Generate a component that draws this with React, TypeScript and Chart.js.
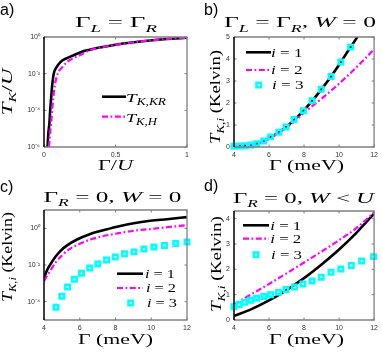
import React, { useEffect, useRef } from "react";
import { Chart, registerables } from "chart.js";
Chart.register(...registerables);

const W = 382;
const H = 354;

// ---------- Panel a) Γ_L = Γ_R ----------
const aGammaKR = [0.025, 0.03, 0.038, 0.043, 0.05, 0.057, 0.068, 0.087, 0.115, 0.15, 0.2, 0.28, 0.37, 0.5, 0.63, 0.74, 0.86, 1.0];
const aTKR = [1e-6, 5e-6, 2.1e-5, 9.3e-5, 4.6e-4, 2.2e-3, 1e-2, 2.2e-2, 4.3e-2, 6.5e-2, 0.095, 0.17, 0.25, 0.38, 0.52, 0.65, 0.78, 0.92];
const aGammaH = [0.035, 0.042, 0.05, 0.057, 0.065, 0.075, 0.096, 0.127, 0.16, 0.197, 0.25, 0.32, 0.4, 0.5, 0.63, 0.74, 0.86, 1.0];
const aTH = [1e-6, 5e-6, 2.1e-5, 1e-4, 5e-4, 2.2e-3, 1e-2, 2.2e-2, 4.3e-2, 6.5e-2, 0.1, 0.19, 0.27, 0.37, 0.52, 0.65, 0.78, 0.92];
const aXTicks = [0, 0.5, 1];
const aYTicks = [1e-6, 1e-4, 1e-2, 1];

// ---------- Panel b) Γ_L = Γ_R, W = 0 ----------
const bGamma1 = [4, 4.5, 5, 5.5, 6, 6.5, 7, 7.5, 8, 8.5, 9, 9.5, 10, 10.5, 11, 11.5];
const bT1 = [0.02, 0.05, 0.1, 0.2, 0.4, 0.63, 0.93, 1.28, 1.68, 2.13, 2.63, 3.16, 3.74, 4.35, 4.95, 5.6];
const bGamma2 = [4, 5, 6, 7, 7.5, 8, 8.5, 9, 9.5, 10, 10.5, 11, 11.5, 12];
const bT2 = [0.02, 0.1, 0.38, 0.88, 1.2, 1.56, 1.88, 2.2, 2.53, 2.88, 3.25, 3.63, 4.03, 4.45];
const bGamma3 = [4.0, 4.32, 4.63, 4.97, 5.29, 5.7, 6.09, 6.56, 6.97, 7.43, 7.96, 8.46, 8.98, 9.54, 10.1, 10.66];
const bT3 = [0.03, 0.05, 0.06, 0.09, 0.15, 0.27, 0.46, 0.67, 0.91, 1.25, 1.65, 2.1, 2.62, 3.2, 3.86, 4.54];
const bYTicks = [0, 1, 2, 3, 4, 5];

// ---------- Panel c) Γ_R = 0, W = 0 ----------
const cGamma1 = [4, 4.17, 4.35, 4.63, 4.91, 5.29, 5.85, 6.59, 7.15, 8.09, 9.02, 9.95, 10.88, 12];
const cT1 = [2.0e-3, 5.2e-3, 1.05e-2, 2.7e-2, 5.75e-2, 0.117, 0.245, 0.49, 0.71, 1.23, 1.9, 2.57, 3.16, 4.07];
const cGamma2 = [4, 4.35, 4.63, 5.0, 5.47, 6.03, 6.59, 7.15, 8.09, 9.02, 9.95, 10.88, 12];
const cT2 = [1.35e-3, 4.9e-3, 1.29e-2, 3.3e-2, 7.8e-2, 0.148, 0.245, 0.347, 0.525, 0.74, 0.91, 1.15, 1.48];
const cGamma3 = [4.67, 5.0, 5.32, 5.7, 6.1, 6.56, 7.01, 7.5, 7.99, 8.5, 9.03, 9.59, 10.15, 10.74, 11.37, 12.0];
const cT3 = [4.9e-5, 2.0e-4, 6.3e-4, 1.66e-3, 3.5e-3, 6.8e-3, 1.15e-2, 1.9e-2, 2.75e-2, 4.1e-2, 5.2e-2, 7.4e-2, 9.5e-2, 0.117, 0.148, 0.182];
const cYTicks = [1e-4, 1e-2, 1];

// ---------- Panel d) Γ_R = 0, W < U ----------
const dGamma1 = [4, 5, 6, 7, 8, 9, 10, 11, 12];
const dT1 = [0.16, 0.43, 0.77, 1.18, 1.65, 2.19, 2.78, 3.45, 4.2];
const dGamma2 = [4, 5, 6, 7, 8, 9, 10, 11, 12];
const dT2 = [0.61, 1.02, 1.42, 1.84, 2.27, 2.7, 3.15, 3.63, 4.25];
const dGamma3 = [4.0, 4.3, 4.6, 4.95, 5.29, 5.7, 6.09, 6.54, 6.97, 7.45, 7.94, 8.46, 8.98, 9.54, 10.1, 10.7, 11.29, 11.97];
const dT3 = [0.52, 0.61, 0.7, 0.78, 0.86, 0.93, 1.0, 1.09, 1.2, 1.3, 1.42, 1.54, 1.69, 1.88, 2.01, 2.15, 2.33, 2.5];
const dYTicks = [0, 1, 2, 3, 4];

const gammaTicks = [4, 6, 8, 10, 12];

// ---------- helpers ----------
const SUP: Record<string, string> = { "-": "⁻", "0": "⁰", "1": "¹", "2": "²", "3": "³", "4": "⁴", "5": "⁵", "6": "⁶", "7": "⁷", "8": "⁸", "9": "⁹" };
const logLabel = (v: number) =>
  "10" + String(Math.round(Math.log10(v))).split("").map((c) => SUP[c] || c).join("");
const plainLabel = (v: number) => String(v);

const xy = (xs: number[], ys: number[]) => xs.map((x, i) => ({ x, y: ys[i] }));

const BLACK = "#000000";
const MAGENTA = "#ff00ff";
const CYAN = "#00ffff";

function solid(label: string, xs: number[], ys: number[]) {
  return { label, data: xy(xs, ys), showLine: true, borderColor: BLACK, backgroundColor: BLACK, borderWidth: 2.6, pointRadius: 0, cubicInterpolationMode: "monotone", order: 2 };
}
function dashdot(label: string, xs: number[], ys: number[]) {
  return { label, data: xy(xs, ys), showLine: true, borderColor: MAGENTA, backgroundColor: MAGENTA, borderWidth: 2.2, borderDash: [6, 2.5, 1.8, 2.5], pointRadius: 0, cubicInterpolationMode: "monotone", order: 1 };
}
function squares(label: string, xs: number[], ys: number[]) {
  return {
    label, data: xy(xs, ys), showLine: false, pointStyle: "rect", pointRadius: 3.1, pointBorderWidth: 2.6,
    pointBorderColor: CYAN, pointBackgroundColor: "rgba(0,0,0,0)", borderColor: CYAN, backgroundColor: "rgba(0,0,0,0)",
    clip: false, order: 0,
  };
}

type LegendItem = { ds: number; kind: "line" | "marker"; x1: number; x2?: number; y: number };

function makeDecor(legend: LegendItem[]) {
  return {
    id: "decor",
    afterDatasetsDraw(chart: any) {
      const { ctx, chartArea: a } = chart;
      const xs = chart.scales.x;
      const ys = chart.scales.y;
      ctx.save();
      ctx.setLineDash([]);
      ctx.lineWidth = 1;
      ctx.strokeStyle = "#7f7f7f";
      const TL = 2.5;
      ctx.beginPath();
      for (const t of xs.ticks) {
        const px = xs.getPixelForValue(t.value);
        ctx.moveTo(px, a.bottom); ctx.lineTo(px, a.bottom - TL);
        ctx.moveTo(px, a.top); ctx.lineTo(px, a.top + TL);
      }
      for (const t of ys.ticks) {
        const py = ys.getPixelForValue(t.value);
        ctx.moveTo(a.left, py); ctx.lineTo(a.left + TL, py);
        ctx.moveTo(a.right, py); ctx.lineTo(a.right - TL, py);
      }
      ctx.stroke();
      ctx.lineWidth = 1.3;
      ctx.strokeStyle = "#808080";
      ctx.beginPath();
      ctx.moveTo(a.left, a.bottom); ctx.lineTo(a.right, a.bottom); ctx.lineTo(a.right, a.top); ctx.lineTo(a.left, a.top);
      ctx.stroke();
      ctx.strokeStyle = "#000";
      ctx.lineWidth = 1.5;
      ctx.beginPath(); ctx.moveTo(a.left, a.top); ctx.lineTo(a.left, a.bottom); ctx.stroke();
      for (const it of legend) {
        const ds: any = chart.data.datasets[it.ds];
        if (it.kind === "line") {
          ctx.strokeStyle = ds.borderColor;
          ctx.lineWidth = ds.borderWidth;
          ctx.setLineDash(ds.borderDash || []);
          ctx.beginPath(); ctx.moveTo(it.x1, it.y); ctx.lineTo(it.x2, it.y); ctx.stroke();
          ctx.setLineDash([]);
        } else {
          const s = 2 * ds.pointRadius * Math.SQRT1_2;
          ctx.strokeStyle = ds.pointBorderColor;
          ctx.lineWidth = ds.pointBorderWidth;
          ctx.strokeRect(it.x1 - s / 2, it.y - s / 2, s, s);
        }
      }
      ctx.restore();
    },
  };
}

type Spec = {
  area: { left: number; right: number; top: number; bottom: number };
  xMin: number; xMax: number; xTicks: number[]; xLabel: (v: number) => string;
  yLog: boolean; yMin: number; yMax: number; yTicks: number[]; yLabel: (v: number) => string;
  datasets: any[];
  legend: LegendItem[];
};

const tickFont = { family: '"Liberation Sans", Arial, sans-serif', size: 7 };
const tickColor = "#333333";

function makeConfig(p: Spec): any {
  const YW = 40;
  const XH = 16;
  return {
    type: "scatter",
    data: { datasets: p.datasets },
    plugins: [makeDecor(p.legend)],
    options: {
      animation: false,
      responsive: false,
      devicePixelRatio: 1,
      events: [],
      layout: {
        padding: { left: p.area.left - YW, top: p.area.top, right: W - p.area.right, bottom: H - p.area.bottom - XH },
      },
      plugins: { legend: { display: false }, tooltip: { enabled: false }, title: { display: false } },
      scales: {
        x: {
          type: "linear", position: "bottom", min: p.xMin, max: p.xMax,
          afterBuildTicks: (s: any) => { s.ticks = p.xTicks.map((v) => ({ value: v })); },
          afterFit: (s: any) => { s.height = XH; },
          ticks: { autoSkip: false, maxRotation: 0, padding: 4, font: tickFont, color: tickColor, callback: (v: any) => p.xLabel(Number(v)) },
          grid: { display: false, drawTicks: false },
          border: { display: false },
        },
        y: {
          type: p.yLog ? "logarithmic" : "linear", position: "left", min: p.yMin, max: p.yMax,
          afterBuildTicks: (s: any) => { s.ticks = p.yTicks.map((v) => ({ value: v })); },
          afterFit: (s: any) => { s.width = YW; },
          ticks: { autoSkip: false, padding: 4, font: tickFont, color: tickColor, callback: (v: any) => p.yLabel(Number(v)) },
          grid: { display: false, drawTicks: false },
          border: { display: false },
        },
      },
    },
  };
}

const specs: Spec[] = [
  {
    area: { left: 44, right: 187, top: 37, bottom: 147 },
    xMin: 0, xMax: 1, xTicks: aXTicks, xLabel: plainLabel,
    yLog: true, yMin: 1e-6, yMax: 1, yTicks: aYTicks, yLabel: logLabel,
    datasets: [solid("T_K,KR", aGammaKR, aTKR), dashdot("T_K,H", aGammaH, aTH)],
    legend: [
      { ds: 0, kind: "line", x1: 102, x2: 126, y: 96.7 },
      { ds: 1, kind: "line", x1: 102, x2: 126, y: 116.7 },
    ],
  },
  {
    area: { left: 234, right: 377, top: 37, bottom: 147 },
    xMin: 4, xMax: 12, xTicks: gammaTicks, xLabel: plainLabel,
    yLog: false, yMin: 0, yMax: 5, yTicks: bYTicks, yLabel: plainLabel,
    datasets: [solid("i = 1", bGamma1, bT1), dashdot("i = 2", bGamma2, bT2), squares("i = 3", bGamma3, bT3)],
    legend: [
      { ds: 0, kind: "line", x1: 246, x2: 271, y: 52.3 },
      { ds: 1, kind: "line", x1: 246, x2: 271, y: 70 },
      { ds: 2, kind: "marker", x1: 258.7, y: 85 },
    ],
  },
  {
    area: { left: 44, right: 187, top: 210, bottom: 320 },
    xMin: 4, xMax: 12, xTicks: gammaTicks, xLabel: plainLabel,
    yLog: true, yMin: 1e-5, yMax: 10, yTicks: cYTicks, yLabel: logLabel,
    datasets: [solid("i = 1", cGamma1, cT1), dashdot("i = 2", cGamma2, cT2), squares("i = 3", cGamma3, cT3)],
    legend: [
      { ds: 0, kind: "line", x1: 117, x2: 143, y: 273.7 },
      { ds: 1, kind: "line", x1: 117, x2: 143, y: 288 },
      { ds: 2, kind: "marker", x1: 130.7, y: 303 },
    ],
  },
  {
    area: { left: 234, right: 377, top: 211, bottom: 320 },
    xMin: 4, xMax: 12, xTicks: gammaTicks, xLabel: plainLabel,
    yLog: false, yMin: 0, yMax: 4.3, yTicks: dYTicks, yLabel: plainLabel,
    datasets: [solid("i = 1", dGamma1, dT1), dashdot("i = 2", dGamma2, dT2), squares("i = 3", dGamma3, dT3)],
    legend: [
      { ds: 0, kind: "line", x1: 243, x2: 269, y: 225.3 },
      { ds: 1, kind: "line", x1: 243, x2: 269, y: 238.7 },
      { ds: 2, kind: "marker", x1: 256, y: 254.7 },
    ],
  },
];

function Panel({ spec }: { spec: Spec }) {
  const ref = useRef<HTMLCanvasElement>(null);
  useEffect(() => {
    const chart = new Chart(ref.current as HTMLCanvasElement, makeConfig(spec));
    return () => chart.destroy();
  }, [spec]);
  return <canvas ref={ref} width={W} height={H} style={{ position: "absolute", left: 0, top: 0, width: W, height: H }} />;
}

// ---------- math-like text (SVG) ----------
const SERIF = '"Liberation Serif", "Times New Roman", serif';
type Part = [string, string]; // kind: r roman, i italic, s subscript italic

function MathText({ x, y, len, size, rot, anchor = "middle", parts }: { x: number; y: number; len?: number; size: number; rot?: number; anchor?: string; parts: Part[] }) {
  let cur = 0;
  const subShift = size * 0.28;
  const spans = parts.map(([t, k], i) => {
    const isSub = k.startsWith("s");
    const target = isSub ? subShift : 0;
    const dy = target - cur;
    cur = target;
    return (
      <tspan key={i} dy={dy} fontSize={isSub ? size * 0.7 : size} fontStyle={k.includes("i") || k === "s" ? "italic" : "normal"}>
        {t}
      </tspan>
    );
  });
  return (
    <text
      x={x}
      y={y}
      textAnchor={anchor}
      fontSize={size}
      fontFamily={SERIF}
      textLength={len}
      lengthAdjust={len ? "spacingAndGlyphs" : undefined}
      transform={rot ? `rotate(${rot} ${x} ${y})` : undefined}
      style={{ whiteSpace: "pre" }}
      fill="#000"
    >
      {spans}
    </text>
  );
}

const SANS = '"Liberation Sans", Arial, sans-serif';

function Overlay() {
  const iLabel = (n: string): Part[] => [["i", "i"], [" = " + n, "r"]];
  const tki: Part[] = [["T", "i"], ["K,i", "s"], [" (Kelvin)", "r"]];
  const gmev: Part[] = [["Γ (meV)", "r"]];
  return (
    <svg width={W} height={H} style={{ position: "absolute", left: 0, top: 0 }}>
      {/* panel letters */}
      <text x={0} y={14.5} fontFamily={SANS} fontSize={16}>a)</text>
      <text x={204} y={14.5} fontFamily={SANS} fontSize={16}>b)</text>
      <text x={0} y={191.5} fontFamily={SANS} fontSize={16}>c)</text>
      <text x={204} y={191} fontFamily={SANS} fontSize={16}>d)</text>

      {/* titles */}
      <MathText x={116} y={27.3} len={82} size={15} parts={[["Γ", "r"], ["L", "s"], [" = Γ", "r"], ["R", "s"]]} />
      <MathText x={300} y={27.3} len={152} size={15} parts={[["Γ", "r"], ["L", "s"], [" = Γ", "r"], ["R", "s"], [", ", "r"], ["W", "i"], [" = 0", "r"]]} />
      <MathText x={112.5} y={202} len={138} size={15} parts={[["Γ", "r"], ["R", "s"], [" = 0, ", "r"], ["W", "i"], [" = 0", "r"]]} />
      <MathText x={303.5} y={202.5} len={141} size={15} parts={[["Γ", "r"], ["R", "s"], [" = 0, ", "r"], ["W", "i"], [" < ", "r"], ["U", "i"]]} />

      {/* x labels */}
      <MathText x={115.5} y={169.5} len={35} size={15} parts={[["Γ/", "r"], ["U", "i"]]} />
      <MathText x={306.5} y={169.5} len={75} size={15} parts={gmev} />
      <MathText x={115.5} y={343.5} len={75} size={15} parts={gmev} />
      <MathText x={306.5} y={343.5} len={75} size={15} parts={gmev} />

      {/* y labels */}
      <MathText x={12} y={92} len={47} size={15} rot={-90} parts={[["T", "i"], ["K", "s"], ["/", "r"], ["U", "i"]]} />
      <MathText x={220} y={97} len={94} size={15} rot={-90} parts={tki} />
      <MathText x={11.5} y={257} len={90} size={15} rot={-90} parts={tki} />
      <MathText x={221} y={264} len={96} size={15} rot={-90} parts={tki} />

      {/* legend texts */}
      <MathText x={126} y={101.7} len={40} size={13.5} anchor="start" parts={[["T", "i"], ["K,KR", "s"]]} />
      <MathText x={126} y={121.7} len={31} size={13.5} anchor="start" parts={[["T", "i"], ["K,H", "s"]]} />

      <MathText x={271} y={56.5} len={31.5} size={13} anchor="start" parts={iLabel("1")} />
      <MathText x={271} y={74.3} len={31.5} size={13} anchor="start" parts={iLabel("2")} />
      <MathText x={272} y={89.3} len={31.5} size={13} anchor="start" parts={iLabel("3")} />

      <MathText x={145} y={278} len={30} size={13} anchor="start" parts={iLabel("1")} />
      <MathText x={146} y={292.3} len={30} size={13} anchor="start" parts={iLabel("2")} />
      <MathText x={147} y={307.3} len={30} size={13} anchor="start" parts={iLabel("3")} />

      <MathText x={270.3} y={229.6} len={31} size={13} anchor="start" parts={iLabel("1")} />
      <MathText x={270.3} y={243} len={31} size={13} anchor="start" parts={iLabel("2")} />
      <MathText x={271} y={259} len={31} size={13} anchor="start" parts={iLabel("3")} />
    </svg>
  );
}

export default function App() {
  return (
    <div style={{ position: "absolute", left: 0, top: 0, width: W, height: H, background: "#fff", overflow: "hidden" }}>
      {specs.map((s, i) => (
        <Panel key={i} spec={s} />
      ))}
      <Overlay />
    </div>
  );
}
